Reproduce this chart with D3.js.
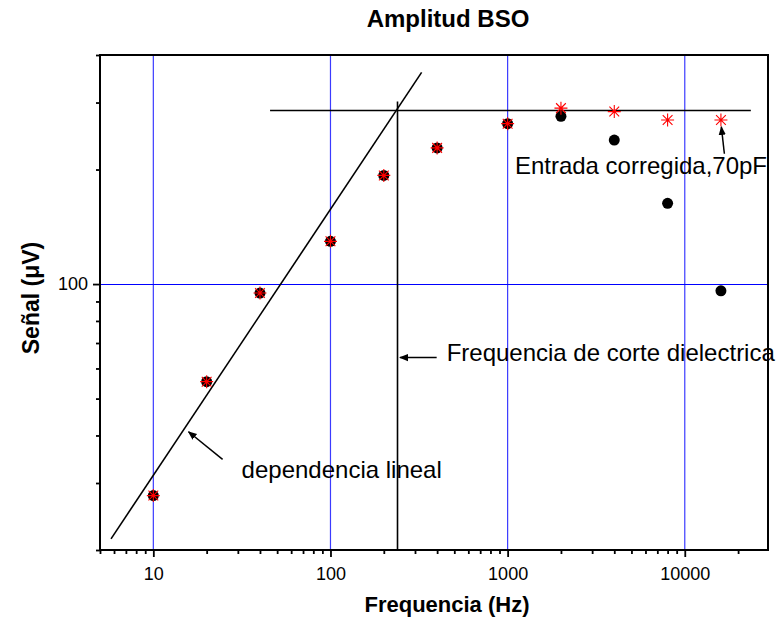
<!DOCTYPE html>
<html>
<head>
<meta charset="utf-8">
<script src="https://cdn.jsdelivr.net/npm/d3@7"></script>
<style>
  body { margin: 0; background: #fff; }
  text { font-family: Arial, "Liberation Sans", sans-serif; }
</style>
</head>
<body>
<svg></svg>
<script>
// data
let freq = [10, 20, 40, 100, 200, 400, 1000, 2000, 4000, 8000, 16000];
let signalMeasured = [27.8, 55.4, 94.7, 129.5, 193, 228, 264, 276, 239, 163, 96];
let signalCorrected = [27.8, 55.4, 94.7, 129.5, 193, 228, 264, 290, 284, 270, 270];

let xTickLabels = [10, 100, 1000, 10000];
let yTickLabels = [100];

// reference lines (data coordinates)
let linearFit = [[5.77, 21.4], [327, 360]];
let plateauLine = [[45.6, 286], [23600, 286]];
let cutoffLine = [[239, 20], [239, 302]];

let width = 778;
let height = 625;
let margin = { top: 55, right: 10, bottom: 75, left: 100 };

let svg = d3.select("svg");
let xScale;
let yScale;

function drawCanvas() {
  svg.attr("width", width).attr("height", height);
}

function generateScales() {
  xScale = d3
    .scaleLog()
    .domain([5, 29500])
    .range([margin.left, width - margin.right]);

  yScale = d3
    .scaleLog()
    .domain([20, 400])
    .range([height - margin.bottom, margin.top]);
}

function drawGrid() {
  svg
    .append("g")
    .selectAll("line")
    .data(xTickLabels)
    .enter()
    .append("line")
    .attr("x1", (d) => xScale(d))
    .attr("x2", (d) => xScale(d))
    .attr("y1", yScale.range()[0])
    .attr("y2", yScale.range()[1])
    .attr("stroke", "#3b3bff")
    .attr("stroke-width", 1.2);

  svg
    .append("g")
    .selectAll("line")
    .data(yTickLabels)
    .enter()
    .append("line")
    .attr("x1", xScale.range()[0])
    .attr("x2", xScale.range()[1])
    .attr("y1", (d) => Math.round(yScale(d)) + 0.5)
    .attr("y2", (d) => Math.round(yScale(d)) + 0.5)
    .attr("stroke", "#0000ff")
    .attr("stroke-width", 1.2);
}

function generateAxes() {
  let bottom = height - margin.bottom;
  let minorX = xScale.ticks().filter((d) => !xTickLabels.includes(d));
  let minorY = yScale.ticks().filter((d) => !yTickLabels.includes(d));

  let xAxis = d3
    .axisBottom(xScale)
    .tickValues(xTickLabels)
    .tickSize(7)
    .tickPadding(10)
    .tickFormat(d3.format("d"));
  let xMinor = d3.axisBottom(xScale).tickValues(minorX).tickSize(4).tickFormat("");

  let gx = svg.append("g").attr("id", "x-axis").attr("transform", `translate(0, ${bottom})`).call(xAxis);
  let gxm = svg.append("g").attr("transform", `translate(0, ${bottom})`).call(xMinor);

  let yAxis = d3
    .axisLeft(yScale)
    .tickValues(yTickLabels)
    .tickSize(7)
    .tickPadding(5)
    .tickFormat(d3.format("d"));
  let yMinor = d3.axisLeft(yScale).tickValues(minorY).tickSize(4).tickFormat("");

  let gy = svg.append("g").attr("id", "y-axis").attr("transform", `translate(${margin.left}, 0)`).call(yAxis);
  let gym = svg.append("g").attr("transform", `translate(${margin.left}, 0)`).call(yMinor);

  [gx, gxm, gy, gym].forEach((g) => {
    g.select(".domain").remove();
    g.selectAll(".tick line").attr("stroke", "#000").attr("stroke-width", 1.8);
    g.selectAll(".tick text").style("font-size", "18px").attr("fill", "#000");
  });

  // frame
  svg
    .append("rect")
    .attr("x", margin.left)
    .attr("y", margin.top)
    .attr("width", width - margin.left - margin.right)
    .attr("height", height - margin.top - margin.bottom)
    .attr("fill", "none")
    .attr("stroke", "#000")
    .attr("stroke-width", 2);

  svg
    .append("text")
    .attr("x", 448)
    .attr("y", 27)
    .style("text-anchor", "middle")
    .style("font-size", "24px")
    .style("font-weight", "bold")
    .text("Amplitud BSO");

  svg
    .append("text")
    .attr("id", "x-axis-label")
    .attr("x", 447)
    .attr("y", 612)
    .style("text-anchor", "middle")
    .style("font-size", "22px")
    .style("font-weight", "bold")
    .text("Frequencia (Hz)");

  svg
    .append("text")
    .attr("id", "y-axis-label")
    .attr("transform", "translate(39, 298) rotate(-90)")
    .style("text-anchor", "middle")
    .style("font-size", "23px")
    .style("font-weight", "bold")
    .text("Señal (μV)");
}

function drawLines() {
  let line = d3
    .line()
    .x((d) => xScale(d[0]))
    .y((d) => yScale(d[1]));

  [linearFit, plateauLine, cutoffLine].forEach((pts) => {
    svg
      .append("path")
      .attr("d", line(pts))
      .attr("fill", "none")
      .attr("stroke", "#000")
      .attr("stroke-width", 1.6);
  });
}

function drawPoints() {
  svg
    .append("g")
    .selectAll("circle")
    .data(freq)
    .enter()
    .append("circle")
    .attr("cx", (d) => xScale(d))
    .attr("cy", (d, i) => yScale(signalMeasured[i]))
    .attr("r", 5.5)
    .attr("fill", "#000");

  // red asterisks
  let s = 6.5;
  let star = `M${-s},0L${s},0M0,${-s}L0,${s}M${-s * 0.75},${-s * 0.75}L${s * 0.75},${s * 0.75}M${-s * 0.75},${s * 0.75}L${s * 0.75},${-s * 0.75}`;
  svg
    .append("g")
    .selectAll("path")
    .data(freq)
    .enter()
    .append("path")
    .attr("transform", (d, i) => `translate(${xScale(d)}, ${yScale(signalCorrected[i])})`)
    .attr("d", star)
    .attr("fill", "none")
    .attr("stroke", "#ff0000")
    .attr("stroke-width", 1.1);
}

function drawAnnotations() {
  let notes = [
    { text: "Entrada corregida,70pF", at: [1099, 195], from: [16730, 220], to: [16090, 259] },
    { text: "Frequencia de corte dielectrica", at: [452.6, 62.6], from: [397.6, 64.1], to: [246.7, 64.1] },
    { text: "dependencia lineal", at: [31.5, 30.9], from: [24.6, 34.6], to: [15.8, 40.9] }
  ];

  svg
    .append("defs")
    .append("marker")
    .attr("id", "head")
    .attr("viewBox", "0 0 10 10")
    .attr("refX", 9)
    .attr("refY", 5)
    .attr("markerWidth", 9)
    .attr("markerHeight", 9)
    .attr("markerUnits", "userSpaceOnUse")
    .attr("orient", "auto")
    .append("path")
    .attr("d", "M0,1L10,5L0,9Z")
    .attr("fill", "#000");

  notes.forEach((n) => {
    svg
      .append("text")
      .attr("x", xScale(n.at[0]))
      .attr("y", yScale(n.at[1]))
      .style("font-size", "24px")
      .text(n.text);

    svg
      .append("line")
      .attr("x1", xScale(n.from[0]))
      .attr("y1", yScale(n.from[1]))
      .attr("x2", xScale(n.to[0]))
      .attr("y2", yScale(n.to[1]))
      .attr("stroke", "#000")
      .attr("stroke-width", 1.5)
      .attr("marker-end", "url(#head)");
  });
}

drawCanvas();
generateScales();
drawGrid();
drawLines();
drawPoints();
generateAxes();
drawAnnotations();
</script>
</body>
</html>
